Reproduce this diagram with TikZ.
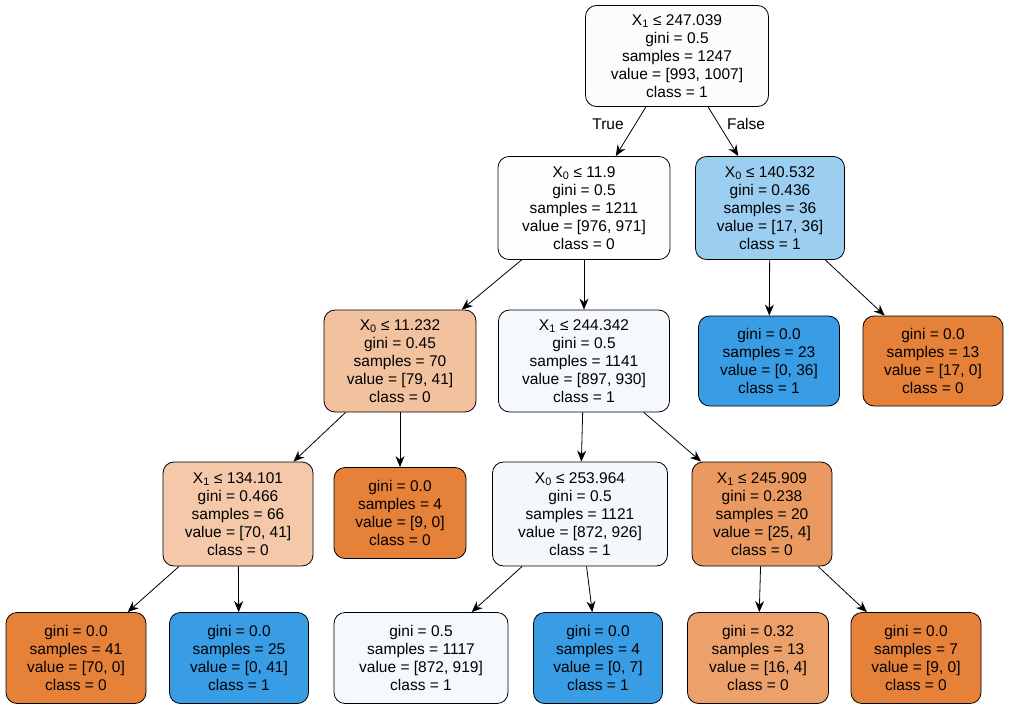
\documentclass[tikz,border=0pt]{standalone}
\usepackage{fontspec}
\setmainfont{Liberation Sans}
\usetikzlibrary{arrows.meta}
\definecolor{c0}{HTML}{FAFCFE}
\definecolor{c1}{HTML}{FEFEFE}
\definecolor{c2}{HTML}{9CCEF2}
\definecolor{c3}{HTML}{F2C29F}
\definecolor{c4}{HTML}{F5F9FE}
\definecolor{cor}{HTML}{E58139}
\definecolor{cbl}{HTML}{399DE5}
\definecolor{c7}{HTML}{F4C8A8}
\definecolor{c9}{HTML}{F4F8FD}
\definecolor{c10}{HTML}{EA9A60}
\definecolor{c13}{HTML}{F4F9FE}
\definecolor{c15}{HTML}{ECA06A}
\begin{document}
\begin{tikzpicture}[x=1pt,y=-1pt,
 box/.style={draw=black,line width=0.8pt,rounded corners=11pt,align=center,inner sep=0pt,
   font=\fontsize{15.5}{18}\selectfont},
 edge/.style={-{Stealth[length=11pt,width=9pt]},line width=0.8pt},
 lab/.style={font=\fontsize{15.5}{18}\selectfont}]
\useasboundingbox (0,0) rectangle (1009,709);
\newcommand{\bx}[6]{\node[box,fill=#2,minimum width=#5pt,minimum height=#6pt] (#1) at (#3,#4) {#1x};}
\node[box,fill=c0,minimum width=183pt,minimum height=101pt] (r) at (677,56) {X\textsubscript{1} ≤ 247.039\\gini = 0.5\\samples = 1247\\value = [993, 1007]\\class = 1};
\node[box,fill=c1,minimum width=172pt,minimum height=103pt] (a) at (584,208) {X\textsubscript{0} ≤ 11.9\\gini = 0.5\\samples = 1211\\value = [976, 971]\\class = 0};
\node[box,fill=c2,minimum width=149pt,minimum height=103pt] (b) at (770,208) {X\textsubscript{0} ≤ 140.532\\gini = 0.436\\samples = 36\\value = [17, 36]\\class = 1};
\node[box,fill=c3,minimum width=152pt,minimum height=102pt] (c) at (400,361) {X\textsubscript{0} ≤ 11.232\\gini = 0.45\\samples = 70\\value = [79, 41]\\class = 0};
\node[box,fill=c4,minimum width=171pt,minimum height=102pt] (d) at (584,361) {X\textsubscript{1} ≤ 244.342\\gini = 0.5\\samples = 1141\\value = [897, 930]\\class = 1};
\node[box,fill=cbl,minimum width=141pt,minimum height=90pt] (e) at (769,361) {gini = 0.0\\samples = 23\\value = [0, 36]\\class = 1};
\node[box,fill=cor,minimum width=140pt,minimum height=90pt] (f) at (933,361) {gini = 0.0\\samples = 13\\value = [17, 0]\\class = 0};
\node[box,fill=c7,minimum width=150pt,minimum height=104pt] (g) at (238,514) {X\textsubscript{1} ≤ 134.101\\gini = 0.466\\samples = 66\\value = [70, 41]\\class = 0};
\node[box,fill=cor,minimum width=132pt,minimum height=91pt] (h) at (400,513) {gini = 0.0\\samples = 4\\value = [9, 0]\\class = 0};
\node[box,fill=c9,minimum width=175pt,minimum height=104pt] (i) at (580,514) {X\textsubscript{0} ≤ 253.964\\gini = 0.5\\samples = 1121\\value = [872, 926]\\class = 1};
\node[box,fill=c10,minimum width=140pt,minimum height=104pt] (j) at (762,514) {X\textsubscript{1} ≤ 245.909\\gini = 0.238\\samples = 20\\value = [25, 4]\\class = 0};
\node[box,fill=cor,minimum width=140pt,minimum height=91pt] (l1) at (76,658) {gini = 0.0\\samples = 41\\value = [70, 0]\\class = 0};
\node[box,fill=cbl,minimum width=139pt,minimum height=91pt] (l2) at (239,658) {gini = 0.0\\samples = 25\\value = [0, 41]\\class = 1};
\node[box,fill=c13,minimum width=174pt,minimum height=91pt] (l3) at (421,658) {gini = 0.5\\samples = 1117\\value = [872, 919]\\class = 1};
\node[box,fill=cbl,minimum width=129pt,minimum height=91pt] (l4) at (598,658) {gini = 0.0\\samples = 4\\value = [0, 7]\\class = 1};
\node[box,fill=c15,minimum width=141pt,minimum height=91pt] (l5) at (758,658) {gini = 0.32\\samples = 13\\value = [16, 4]\\class = 0};
\node[box,fill=cor,minimum width=130pt,minimum height=91pt] (l6) at (916,658) {gini = 0.0\\samples = 7\\value = [9, 0]\\class = 0};
\draw[edge] (r) -- (a);
\draw[edge] (r) -- (b);
\draw[edge] (a) -- (c);
\draw[edge] (a) -- (d);
\draw[edge] (b) -- (e);
\draw[edge] (b) -- (f);
\draw[edge] (c) -- (g);
\draw[edge] (c) -- (h);
\draw[edge] (d) -- (i);
\draw[edge] (d) -- (j);
\draw[edge] (g) -- (l1);
\draw[edge] (g) -- (l2);
\draw[edge] (i) -- (l3);
\draw[edge] (i) -- (l4);
\draw[edge] (j) -- (l5);
\draw[edge] (j) -- (l6);
\node[lab] (t) at (608,124) {True};
\node[lab] (fl) at (746,124) {False};
\end{tikzpicture}
\end{document}
